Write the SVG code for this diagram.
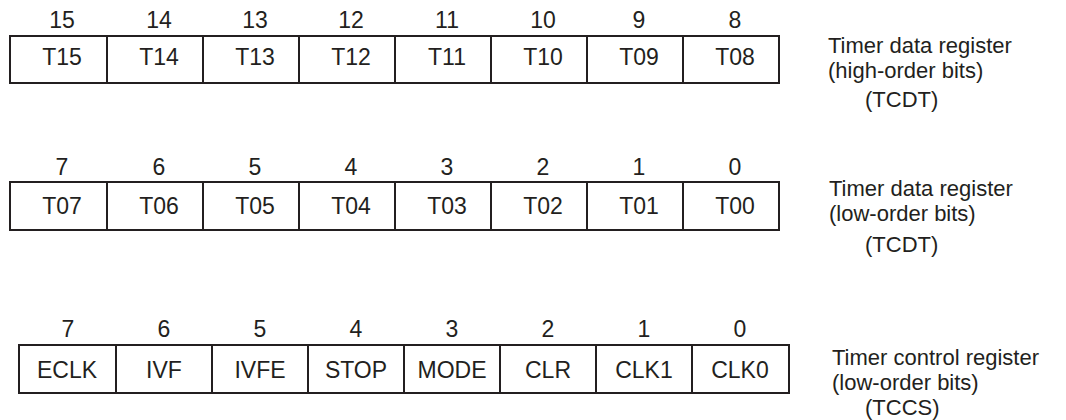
<svg xmlns="http://www.w3.org/2000/svg" width="1066" height="420" viewBox="0 0 1066 420">
<style>
.box{fill:none;stroke:#231f20;stroke-width:2}
.div{stroke:#231f20;stroke-width:2}
text{font-family:"Liberation Sans",Arial,sans-serif;fill:#231f20}
.c{font-size:23px;text-anchor:middle}
.l{font-size:22px}
</style>
<rect width="1066" height="420" fill="#fff"/>
<g id="reg-tcdt-high">
<rect class="box" x="10" y="36" width="769" height="47"/>
<path class="div" d="M107 36V83M203 36V83M299 36V83M395 36V83M491 36V83M587 36V83M683 36V83"/>
<g class="c">
<text x="62" y="28">15</text><text x="159" y="28">14</text><text x="255" y="28">13</text><text x="351" y="28">12</text><text x="447" y="28">11</text><text x="543" y="28">10</text><text x="639" y="28">9</text><text x="735" y="28">8</text>
<text x="62" y="65">T15</text><text x="159" y="65">T14</text><text x="255" y="65">T13</text><text x="351" y="65">T12</text><text x="447" y="65">T11</text><text x="543" y="65">T10</text><text x="639" y="65">T09</text><text x="735" y="65">T08</text>
</g>
<text class="l" x="828" y="53">Timer data register</text>
<text class="l" x="828" y="78">(high-order bits)</text>
<text class="l" x="865" y="107">(TCDT)</text>
</g>
<g id="reg-tcdt-low">
<rect class="box" x="10" y="182" width="769" height="48"/>
<path class="div" d="M107 182V230M203 182V230M299 182V230M395 182V230M491 182V230M587 182V230M683 182V230"/>
<g class="c">
<text x="62" y="175">7</text><text x="159" y="175">6</text><text x="255" y="175">5</text><text x="351" y="175">4</text><text x="447" y="175">3</text><text x="543" y="175">2</text><text x="639" y="175">1</text><text x="735" y="175">0</text>
<text x="62" y="214">T07</text><text x="159" y="214">T06</text><text x="255" y="214">T05</text><text x="351" y="214">T04</text><text x="447" y="214">T03</text><text x="543" y="214">T02</text><text x="639" y="214">T01</text><text x="735" y="214">T00</text>
</g>
<text class="l" x="829" y="196">Timer data register</text>
<text class="l" x="829" y="221">(low-order bits)</text>
<text class="l" x="865" y="252">(TCDT)</text>
</g>
<g id="reg-tccs">
<rect class="box" x="19" y="345" width="770" height="48"/>
<path class="div" d="M116 345V393M212 345V393M308 345V393M404 345V393M500 345V393M596 345V393M692 345V393"/>
<g class="c">
<text x="68" y="337">7</text><text x="164" y="337">6</text><text x="260" y="337">5</text><text x="356" y="337">4</text><text x="452" y="337">3</text><text x="548" y="337">2</text><text x="644" y="337">1</text><text x="740" y="337">0</text>
<text x="67" y="378">ECLK</text><text x="164" y="378">IVF</text><text x="260" y="378">IVFE</text><text x="356" y="378">STOP</text><text x="452" y="378">MODE</text><text x="548" y="378">CLR</text><text x="644" y="378">CLK1</text><text x="740" y="378">CLK0</text>
</g>
<text class="l" x="832" y="365">Timer control register</text>
<text class="l" x="832" y="390">(low-order bits)</text>
<text class="l" x="865" y="415">(TCCS)</text>
</g>
</svg>
